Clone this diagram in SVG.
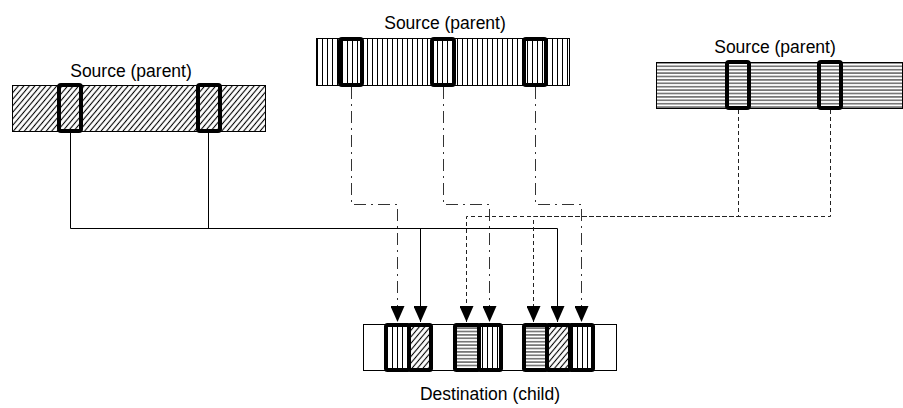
<svg xmlns="http://www.w3.org/2000/svg" width="903" height="408" viewBox="0 0 903 408">
<style>
.lbl{font-family:"Liberation Sans",Arial,sans-serif;font-size:17.5px;fill:#000;text-anchor:middle}
.bar{stroke:#000;stroke-width:1}
.hl{fill:none;stroke:#000;stroke-width:4}
.cell{stroke:#000;stroke-width:4}
.solid{fill:none;stroke:#000;stroke-width:1}
.dashdot{fill:none;stroke:#333;stroke-width:1;stroke-dasharray:12 5 2 5}
.dashed{fill:none;stroke:#222;stroke-width:1;stroke-dasharray:4 3}
</style>
<defs>
<pattern id="vert" width="5" height="10" patternUnits="userSpaceOnUse"><rect width="5" height="10" fill="#fff"/><line x1="2.5" y1="0" x2="2.5" y2="10" stroke="#000" stroke-width="1"/></pattern>
<pattern id="horz" width="10" height="3.4" patternUnits="userSpaceOnUse"><rect width="10" height="3.4" fill="#fff"/><line x1="0" y1="1.7" x2="10" y2="1.7" stroke="#000" stroke-width="0.9"/></pattern>
<pattern id="diag" width="4.2" height="4.2" patternUnits="userSpaceOnUse" patternTransform="rotate(40)"><rect width="4.2" height="4.2" fill="#fff"/><line x1="2.1" y1="0" x2="2.1" y2="4.2" stroke="#000" stroke-width="1.1"/></pattern>
<marker id="ah" markerUnits="userSpaceOnUse" markerWidth="14" markerHeight="16" refX="7" refY="16" orient="0"><path d="M0,0 L14,0 L7,16 Z" fill="#000"/></marker>
</defs>
<rect width="903" height="408" fill="#fff"/>

<g id="connectors">
<path class="solid" d="M70.5 133 V228.5 H557.5 V322" marker-end="url(#ah)"/>
<path class="solid" d="M208.5 133 V228.5 H420.5 V322" marker-end="url(#ah)"/>
<path class="dashdot" d="M351.5 87 V204.5 H397.5 V322" marker-end="url(#ah)"/>
<path class="dashdot" d="M443.5 87 V204.5 H489.5 V322" marker-end="url(#ah)"/>
<path class="dashdot" d="M535.5 87 V204.5 H581.5 V322" marker-end="url(#ah)"/>
<path class="dashed" d="M830.5 110 V216.5 H466.5 V322" marker-end="url(#ah)"/>
<path class="dashed" d="M738.5 110 V216.5 H533.5 V322" marker-end="url(#ah)"/>
</g>

<g id="source-left">
<text class="lbl" x="131" y="77">Source (parent)</text>
<rect class="bar" x="12.5" y="85.5" width="253" height="46" fill="url(#diag)"/>
<rect class="hl" x="59" y="85" width="22" height="46" rx="2"/>
<rect class="hl" x="198" y="85" width="22" height="46" rx="2"/>
</g>

<g id="source-top">
<text class="lbl" x="445" y="29">Source (parent)</text>
<rect class="bar" x="316.5" y="38.5" width="253" height="47" fill="url(#vert)"/>
<rect class="hl" x="340" y="39" width="22" height="46" rx="2"/>
<rect class="hl" x="432" y="39" width="22" height="46" rx="2"/>
<rect class="hl" x="524" y="39" width="22" height="46" rx="2"/>
</g>

<g id="source-right">
<text class="lbl" x="775" y="53">Source (parent)</text>
<rect class="bar" x="656.5" y="62.5" width="246" height="46" fill="url(#horz)"/>
<rect class="hl" x="727" y="62" width="22" height="46" rx="2"/>
<rect class="hl" x="819" y="62" width="22" height="46" rx="2"/>
</g>

<g id="destination">
<rect class="bar" x="363.5" y="324.5" width="253" height="46" fill="#fff"/>
<rect class="cell" x="386" y="325" width="23" height="45" rx="1.5" fill="url(#vert)"/>
<rect class="cell" x="409" y="325" width="22" height="45" rx="1.5" fill="url(#diag)"/>
<rect class="cell" x="455" y="325" width="24" height="45" rx="1.5" fill="url(#horz)"/>
<rect class="cell" x="479" y="325" width="22" height="45" rx="1.5" fill="url(#vert)"/>
<rect class="cell" x="524" y="325" width="23" height="45" rx="1.5" fill="url(#horz)"/>
<rect class="cell" x="547" y="325" width="23" height="45" rx="1.5" fill="url(#diag)"/>
<rect class="cell" x="570" y="325" width="23" height="45" rx="1.5" fill="url(#vert)"/>
<text class="lbl" x="490" y="400">Destination (child)</text>
</g>
</svg>
